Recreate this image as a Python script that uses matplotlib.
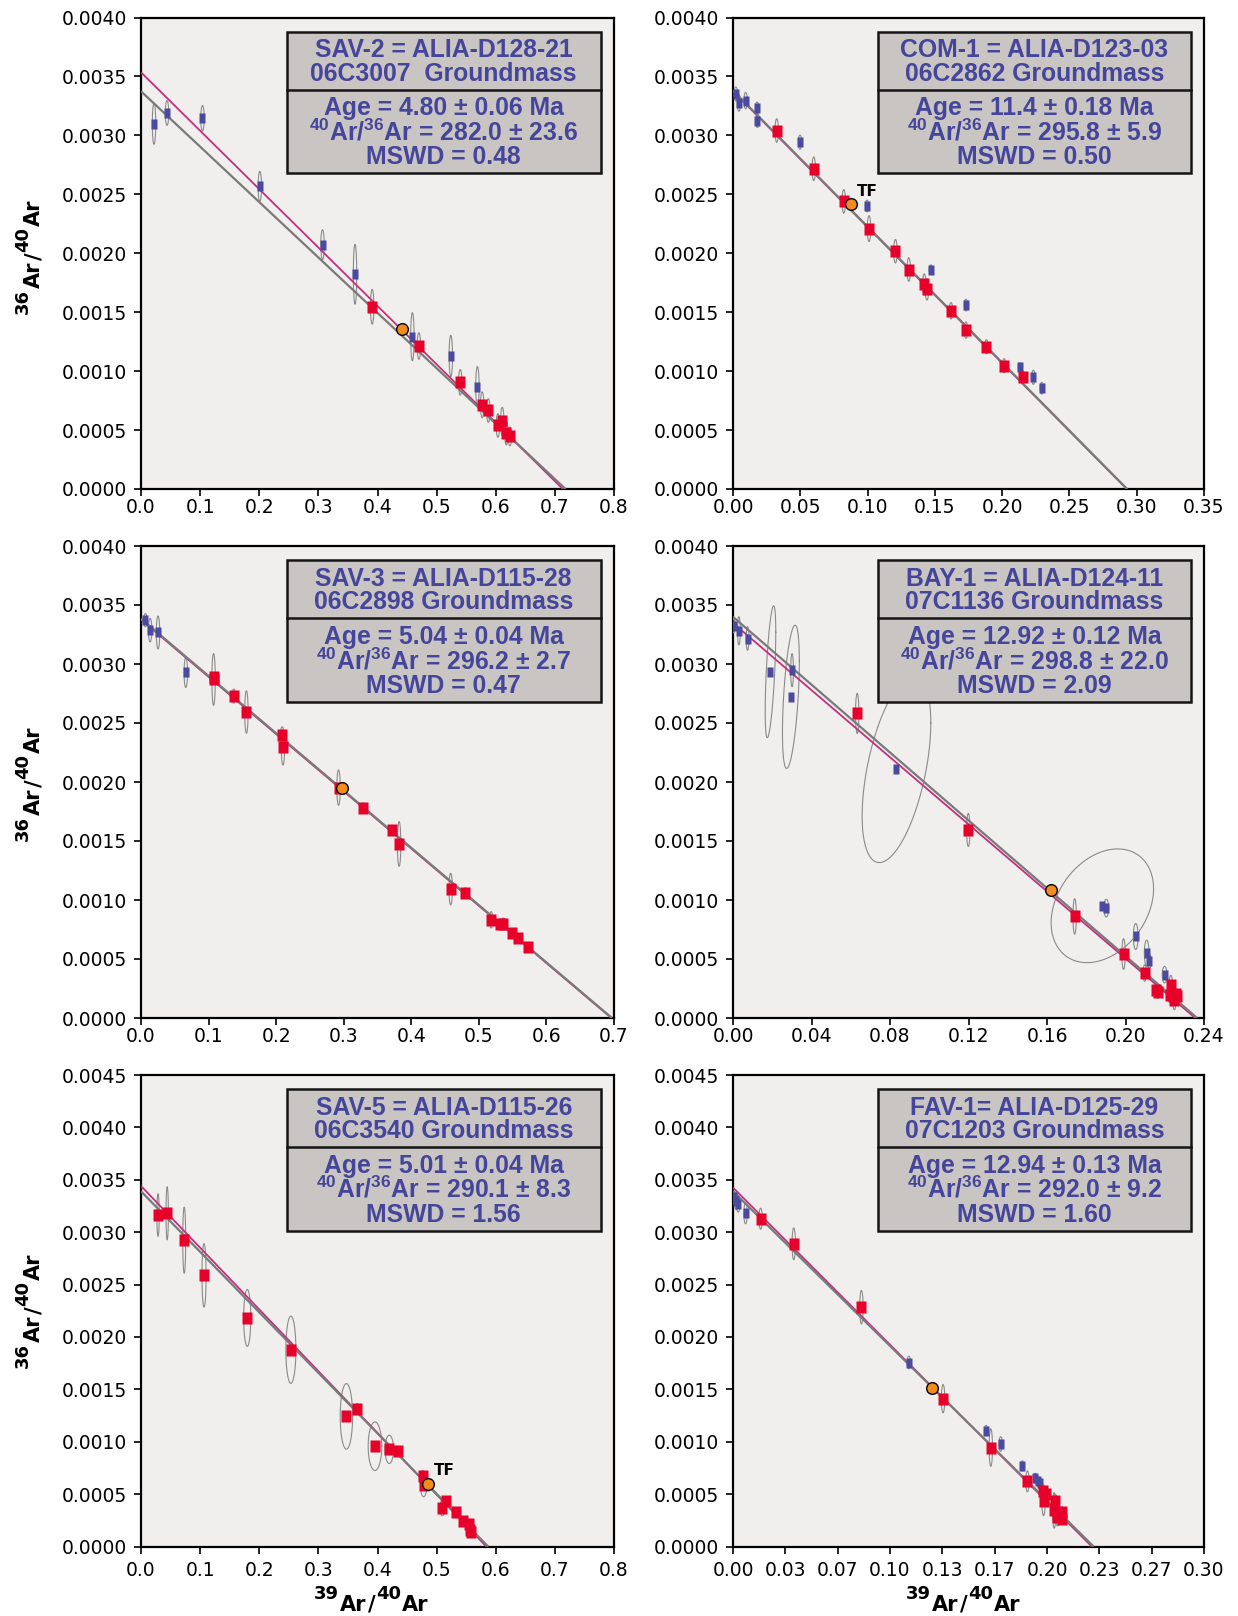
import numpy as np
import matplotlib
matplotlib.use("Agg")
import matplotlib.pyplot as plt
from matplotlib.patches import Rectangle
from matplotlib.font_manager import FontProperties

# ====================== DATA ======================
# Panel 1 : SAV-2
P1_BLUE_X = [0.022, 0.044, 0.104, 0.201, 0.307, 0.362, 0.459, 0.524, 0.569]
P1_BLUE_Y = [0.00310, 0.00319, 0.003145, 0.002567, 0.002073, 0.001822, 0.001292, 0.001128, 0.000869]
P1_BLUE_SY = [0.000176, 0.000105, 0.000108, 0.000127, 0.000127, 0.000254, 0.000204, 0.000176, 0.00017]
P1_RED_X = [0.391, 0.470, 0.540, 0.577, 0.5875, 0.6036, 0.611, 0.618, 0.624]
P1_RED_Y = [0.001546, 0.001213, 0.000905, 0.000714, 0.000666, 0.000539, 0.000573, 0.000474, 0.000446]
P1_RED_SY = [0.000148, 0.000113, 0.000108, 0.00011, 0.0001, 0.0001, 0.00012, 0.0001, 0.00008]
P1_TF = (0.442, 0.001354)
P1_FIT = (0.003535, 0.7134)     # magenta isochron: y-intercept, x-intercept
P1_REF = (0.003374, 0.718)      # grey line
P1_TEXT = ["SAV-2 = ALIA-D128-21", "06C3007  Groundmass", "Age = 4.80 \u00b1 0.06 Ma",
           "$^{40}$Ar/$^{36}$Ar = 282.0 \u00b1 23.6", "MSWD = 0.48"]

# Panel 2 : COM-1
P2_BLUE_X = [0.0021, 0.0044, 0.0094, 0.0179, 0.0182, 0.0498, 0.0996, 0.147, 0.1731, 0.2132, 0.2232, 0.2294]
P2_BLUE_Y = [0.003351, 0.003275, 0.003295, 0.003233, 0.003126, 0.002942, 0.002401, 0.001862, 0.001560,
             0.001032, 0.000948, 0.000855]
P2_BLUE_SY = [0.00006, 0.00007, 0.00007, 0.00005, 0.00006, 0.00006, 0.00005, 0.00004, 0.00005, 0.00004,
              0.00006, 0.00005]
P2_RED_X = [0.0325, 0.0600, 0.0823, 0.1011, 0.1207, 0.1306, 0.1421, 0.1441, 0.162, 0.1731, 0.1883, 0.2015, 0.2153]
P2_RED_Y = [0.003041, 0.002717, 0.002440, 0.002209, 0.002017, 0.001862, 0.001735, 0.001693, 0.001512,
            0.001348, 0.001207, 0.001046, 0.000953]
P2_RED_SY = [0.0001, 0.0001, 0.0001, 0.00011, 0.0001, 0.0001, 0.00009, 0.00009, 0.00007, 0.00007, 0.00006,
             0.00006, 0.00005]
P2_TF = (0.0876, 0.002415)
P2_FIT = (0.003375, 0.2926)
P2_REF = (0.00338, 0.2929)
P2_TEXT = ["COM-1 = ALIA-D123-03", "06C2862 Groundmass", "Age = 11.4 \u00b1 0.18 Ma",
           "$^{40}$Ar/$^{36}$Ar = 295.8 \u00b1 5.9", "MSWD = 0.50"]

# Panel 3 : SAV-3
P3_BLUE_X = [0.0065, 0.0135, 0.0252, 0.0663]
P3_BLUE_Y = [0.003371, 0.003287, 0.003267, 0.002928]
P3_BLUE_SY = [0.000056, 0.0001, 0.00014, 0.000127]
P3_RED_X = [0.1074, 0.108, 0.1373, 0.156, 0.2089, 0.2101, 0.2923, 0.3292, 0.3715, 0.382, 0.4583, 0.48,
            0.5182, 0.531, 0.536, 0.5493, 0.5581, 0.5728]
P3_RED_Y = [0.002869, 0.002892, 0.002728, 0.002593, 0.002398, 0.002293, 0.001952, 0.001783, 0.001594,
            0.001475, 0.001092, 0.001063, 0.000832, 0.000795, 0.000798, 0.000719, 0.000677, 0.000601]
P3_RED_SY = [0.00022, 0.00003, 0.00006, 0.00018, 0.00007, 0.00015, 0.00015, 0.00004, 0.00004, 0.00019,
             0.000134, 0.00004, 0.00007, 0.00003, 0.00005, 0.00003, 0.00003, 0.00003]
P3_TF = (0.297, 0.001952)
P3_FIT = (0.003376, 0.696)
P3_REF = (0.003384, 0.697)
P3_TEXT = ["SAV-3 = ALIA-D115-28", "06C2898 Groundmass", "Age = 5.04 \u00b1 0.04 Ma",
           "$^{40}$Ar/$^{36}$Ar = 296.2 \u00b1 2.7", "MSWD = 0.47"]

# Panel 4 : BAY-1
P4_BLUE_X = [0.0004, 0.003, 0.0074, 0.0191, 0.0295, 0.0301, 0.0833, 0.1882, 0.1902, 0.2052, 0.2108, 0.2122, 0.2199]
P4_BLUE_Y = [0.003323, 0.003281, 0.003216, 0.002934, 0.002722, 0.002948, 0.002107, 0.000951, 0.000931,
             0.000691, 0.000550, 0.000479, 0.000367]
P4_BLUE_SY = [0.00006, 0.00012, 0.0001, 0.000559, 0.000607, 0.00014, 0.00079, 0.000482, 0.000076, 0.00011,
              0.00011, 0.00006, 0.00007]
P4_BLUE_SX = [0.0007, 0.0007, 0.0007, 0.0027, 0.0043, 0.0007, 0.0175, 0.0261, 0.0012, 0.0012, 0.0012, 0.0009, 0.0012]
P4_BLUE_RHO = [0, 0, 0, 0.6, 0.5, 0, 0.5, 0.3, 0, 0, 0, 0, 0]
P4_RED_X = [0.0633, 0.1199, 0.1741, 0.199, 0.2098, 0.2153, 0.2165, 0.2231, 0.2229, 0.2243, 0.2255, 0.2263, 0.2249]
P4_RED_Y = [0.002581, 0.001594, 0.000861, 0.000542, 0.000381, 0.000234, 0.000217, 0.000282, 0.000197,
            0.000183, 0.000203, 0.000183, 0.00015]
P4_RED_SY = [0.00017, 0.00014, 0.00015, 0.00013, 0.00007, 0.00005, 0.00005, 0.00008, 0.00006, 0.00005,
             0.00005, 0.00004, 0.00008]
P4_TF = (0.162, 0.001086)
P4_FIT = (0.003347, 0.2355)
P4_REF = (0.00340, 0.2365)
P4_TEXT = ["BAY-1 = ALIA-D124-11", "07C1136 Groundmass", "Age = 12.92 \u00b1 0.12 Ma",
           "$^{40}$Ar/$^{36}$Ar = 298.8 \u00b1 22.0", "MSWD = 2.09"]

# Panel 5 : SAV-5
P5_RED_X = [0.0288, 0.0443, 0.0731, 0.1066, 0.1797, 0.2535, 0.3474, 0.3655, 0.3957, 0.4199, 0.4346, 0.4762,
            0.478, 0.5097, 0.5164, 0.5332, 0.5453, 0.554, 0.5567, 0.5587]
P5_RED_Y = [0.003163, 0.00318, 0.002923, 0.002588, 0.002182, 0.001878, 0.001242, 0.001316, 0.000957,
            0.000927, 0.00091, 0.000677, 0.00059, 0.000369, 0.000436, 0.000328, 0.000244, 0.000217,
            0.000159, 0.000142]
P5_RED_SY = [0.000203, 0.000254, 0.000316, 0.000303, 0.000272, 0.000321, 0.000313, 0.00005, 0.000232,
             0.000135, 0.00005, 0.00005, 0.000115, 0.000076, 0.00004, 0.00004, 0.00004, 0.00004,
             0.00004, 0.00004]
P5_RED_SX = [0.002, 0.002, 0.0025, 0.0035, 0.006, 0.0085, 0.0105, 0.002, 0.0115, 0.0072, 0.002, 0.002,
             0.0055, 0.004, 0.002, 0.002, 0.002, 0.002, 0.002, 0.002]
P5_TF = (0.485, 0.000599)
P5_FIT = (0.003441, 0.584)
P5_REF = (0.00339, 0.587)
P5_TEXT = ["SAV-5 = ALIA-D115-26", "06C3540 Groundmass", "Age = 5.01 \u00b1 0.04 Ma",
           "$^{40}$Ar/$^{36}$Ar = 290.1 \u00b1 8.3", "MSWD = 1.56"]

# Panel 6 : FAV-1
P6_BLUE_X = [0.0005, 0.002, 0.0033, 0.008, 0.112, 0.1612, 0.1705, 0.1843, 0.1926, 0.1941, 0.1958]
P6_BLUE_Y = [0.003332, 0.003295, 0.003271, 0.00318, 0.001756, 0.001106, 0.000978, 0.000768, 0.00065,
             0.000626, 0.000606]
P6_BLUE_SY = [0.00006, 0.00008, 0.00008, 0.0001, 0.00006, 0.00005, 0.00007, 0.00005, 0.00005, 0.00005, 0.00004]
P6_RED_X = [0.0176, 0.0387, 0.0818, 0.1338, 0.1642, 0.1875, 0.1976, 0.1996, 0.1978, 0.2054, 0.2046, 0.2076,
            0.2096, 0.2096, 0.2066]
P6_RED_Y = [0.003129, 0.002889, 0.002284, 0.001411, 0.000944, 0.000622, 0.000531, 0.000497, 0.00043,
            0.000436, 0.000345, 0.000311, 0.000328, 0.00026, 0.000277]
P6_RED_SY = [0.0001, 0.000152, 0.00016, 0.000135, 0.000179, 0.0001, 0.00006, 0.00006, 0.000135, 0.00006,
             0.00017, 0.00005, 0.00005, 0.00005, 0.00008]
P6_TF = (0.127, 0.001512)
P6_FIT = (0.003425, 0.2285)
P6_REF = (0.00339, 0.2297)
P6_TEXT = ["FAV-1= ALIA-D125-29", "07C1203 Groundmass", "Age = 12.94 \u00b1 0.13 Ma",
           "$^{40}$Ar/$^{36}$Ar = 292.0 \u00b1 9.2", "MSWD = 1.60"]

Y_TICKS_A = [0.0, 0.0005, 0.0010, 0.0015, 0.0020, 0.0025, 0.0030, 0.0035, 0.0040]
Y_TICKS_B = [0.0, 0.0005, 0.0010, 0.0015, 0.0020, 0.0025, 0.0030, 0.0035, 0.0040, 0.0045]
X_TICKS_1 = [0.0, 0.1, 0.2, 0.3, 0.4, 0.5, 0.6, 0.7, 0.8]
X_TICKS_2 = [0.0, 0.05, 0.10, 0.15, 0.20, 0.25, 0.30, 0.35]
X_TICKS_3 = [0.0, 0.1, 0.2, 0.3, 0.4, 0.5, 0.6, 0.7]
X_TICKS_4 = [0.0, 0.04, 0.08, 0.12, 0.16, 0.20, 0.24]
X_TICKS_6 = [i * 0.3 / 9 for i in range(10)]

# ====================== STYLE ======================
W, H = 1238, 1616
RED = '#e6002a'
BLUE = '#4a4a9e'
ORANGE = '#f28c1e'
GRAYLINE = '#7a7a7a'
MAGENTA = '#c2307c'
ELL = '#8a8a8a'
TXT = '#45459b'
BOX_FC = '#c9c5c2'
AX_FC = '#f0efee'

plt.rcParams['font.family'] = ['DejaVu Sans']
plt.rcParams['mathtext.default'] = 'regular'

fig = plt.figure(figsize=(W / 100, H / 100), dpi=100)

RECT_RED = [(-0.38, -0.5), (0.38, -0.5), (0.38, 0.5), (-0.38, 0.5), (-0.38, -0.5)]
RECT_BLUE = [(-0.32, -0.5), (0.32, -0.5), (0.32, 0.5), (-0.32, 0.5), (-0.32, -0.5)]


def add_ax(l, r, t, b):
    return fig.add_axes([l / W, 1 - b / H, (r - l) / W, (b - t) / H])


def ellipse(ax, cx, cy, sx, sy, rho):
    t = np.linspace(0, 2 * np.pi, 160)
    ex = cx + sx * np.cos(t)
    ey = cy + sy * (rho * np.cos(t) + np.sqrt(1 - rho ** 2) * np.sin(t))
    ax.plot(ex, ey, color=ELL, lw=0.8, zorder=3)


def panel(ax, ax_h_px, xmax, ymax, xticks, xfmt, yticks, blue, red, tf, fit, ref, texts,
          tf_label, xpad):
    ax.set_facecolor(AX_FC)
    ax.set_xlim(0, xmax)
    ax.set_ylim(0, ymax)
    sx_def = xmax * 0.0036
    # error ellipses
    if blue is not None:
        bx, by, bsy, bsx, brho = blue
        for i in range(len(bx)):
            ellipse(ax, bx[i], by[i], bsx[i] if bsx else sx_def, bsy[i], brho[i] if brho else 0.0)
    rx, ry, rsy, rsx = red
    for i in range(len(rx)):
        ellipse(ax, rx[i], ry[i], rsx[i] if rsx else sx_def, rsy[i], 0.0)
    # lines
    ax.plot([0, fit[1]], [fit[0], 0], color=MAGENTA, lw=1.3, zorder=4, solid_capstyle='butt')
    ax.plot([0, ref[1]], [ref[0], 0], color=GRAYLINE, lw=1.6, zorder=4.1, solid_capstyle='butt')
    # markers
    if blue is not None:
        ax.plot(blue[0], blue[1], ls='none', marker=RECT_BLUE, ms=6.8, mfc=BLUE, mec='none', zorder=5)
    ax.plot(rx, ry, ls='none', marker=RECT_RED, ms=8.8, mfc=RED, mec='none', zorder=5.1)
    ax.plot([tf[0]], [tf[1]], ls='none', marker='o', ms=8.4, mfc=ORANGE, mec='black', mew=1.0, zorder=6)
    if tf_label:
        ax.text(tf[0] + xmax * 0.012, tf[1] + ymax * 0.018, 'TF', fontsize=11, fontweight='bold',
                color='black', ha='left', va='baseline', zorder=7)
    # ticks
    ax.set_xticks(xticks)
    ax.set_xticklabels([xfmt % v for v in xticks])
    ax.set_yticks(yticks)
    ax.set_yticklabels(['%.4f' % v for v in yticks])
    ax.tick_params(axis='both', direction='out', length=5, width=1.2, labelsize=13.5, color='black')
    ax.tick_params(axis='y', pad=5)
    ax.tick_params(axis='x', pad=xpad)
    for s in ax.spines.values():
        s.set_linewidth(1.6)
        s.set_color('black')
    # text box
    def fy(off):
        return 1 - off / ax_h_px
    bx0, bx1 = 0.308, 0.972
    top, div, bot = fy(14.3), fy(72), fy(155.5)
    ax.add_patch(Rectangle((bx0, bot), bx1 - bx0, top - bot, transform=ax.transAxes, fc=BOX_FC,
                           ec='#151515', lw=1.8, zorder=10, clip_on=False))
    ax.plot([bx0, bx1], [div, div], transform=ax.transAxes, color='#151515', lw=1.8, zorder=11,
            clip_on=False)
    cx = (bx0 + bx1) / 2
    for s, off in zip(texts, [39.8, 63.2, 98.0, 123.0, 147.0]):
        ax.text(cx, fy(off), s, transform=ax.transAxes, ha='center', va='baseline', fontsize=17.8,
                fontweight='bold', family=['Liberation Sans', 'DejaVu Sans'], color=TXT, zorder=12)


# axes layout (pixels)
LC = (141, 614)
RC = (733, 1204)
ROWS = [(17.5, 489), (546, 1018), (1075, 1546.5)]

ax1 = add_ax(LC[0], LC[1], *ROWS[0])
ax2 = add_ax(RC[0], RC[1], *ROWS[0])
ax3 = add_ax(LC[0], LC[1], *ROWS[1])
ax4 = add_ax(RC[0], RC[1], *ROWS[1])
ax5 = add_ax(LC[0], LC[1], *ROWS[2])
ax6 = add_ax(RC[0], RC[1], *ROWS[2])

h0 = ROWS[0][1] - ROWS[0][0]
h1 = ROWS[1][1] - ROWS[1][0]
h2 = ROWS[2][1] - ROWS[2][0]

panel(ax1, h0, 0.8, 0.004, X_TICKS_1, '%.1f', Y_TICKS_A,
      (P1_BLUE_X, P1_BLUE_Y, P1_BLUE_SY, None, None), (P1_RED_X, P1_RED_Y, P1_RED_SY, None),
      P1_TF, P1_FIT, P1_REF, P1_TEXT, False, 1.5)
panel(ax2, h0, 0.35, 0.004, X_TICKS_2, '%.2f', Y_TICKS_A,
      (P2_BLUE_X, P2_BLUE_Y, P2_BLUE_SY, None, None), (P2_RED_X, P2_RED_Y, P2_RED_SY, None),
      P2_TF, P2_FIT, P2_REF, P2_TEXT, True, 1.5)
panel(ax3, h1, 0.7, 0.004, X_TICKS_3, '%.1f', Y_TICKS_A,
      (P3_BLUE_X, P3_BLUE_Y, P3_BLUE_SY, None, None), (P3_RED_X, P3_RED_Y, P3_RED_SY, None),
      P3_TF, P3_FIT, P3_REF, P3_TEXT, False, 1.5)
panel(ax4, h1, 0.24, 0.004, X_TICKS_4, '%.2f', Y_TICKS_A,
      (P4_BLUE_X, P4_BLUE_Y, P4_BLUE_SY, P4_BLUE_SX, P4_BLUE_RHO), (P4_RED_X, P4_RED_Y, P4_RED_SY, None),
      P4_TF, P4_FIT, P4_REF, P4_TEXT, False, 1.5)
panel(ax5, h2, 0.8, 0.0045, X_TICKS_1, '%.1f', Y_TICKS_B,
      None, (P5_RED_X, P5_RED_Y, P5_RED_SY, P5_RED_SX),
      P5_TF, P5_FIT, P5_REF, P5_TEXT, True, 5.5)
panel(ax6, h2, 0.30, 0.0045, X_TICKS_6, '%.2f', Y_TICKS_B,
      (P6_BLUE_X, P6_BLUE_Y, P6_BLUE_SY, None, None), (P6_RED_X, P6_RED_Y, P6_RED_SY, None),
      P6_TF, P6_FIT, P6_REF, P6_TEXT, False, 5.5)

# ---------------- composite axis labels ----------------
renderer = fig.canvas.get_renderer()


def rich_label(x_px, y_px_top, pieces, rotation=0):
    """pieces: (text, size, raise_px). For rotation 0: x is centre, y is baseline (pixels from top).
    For rotation 90: x is baseline, y is centre."""
    widths = []
    for s, size, rs in pieces:
        fp = FontProperties(family='DejaVu Sans', weight='bold', size=size)
        w, h, d = renderer.get_text_width_height_descent(s, fp, ismath=False)
        widths.append(w + 1.0)
    total = sum(widths)
    pos = -total / 2
    y_mpl = H - y_px_top
    for (s, size, rs), w in zip(pieces, widths):
        if rotation == 0:
            px, py = x_px + pos, y_mpl + rs
        else:
            px, py = x_px - rs, y_mpl + pos
        fig.text(px / W, py / H, s, fontsize=size, fontweight='bold', family='DejaVu Sans',
                 rotation=rotation, rotation_mode='anchor', ha='left', va='baseline', color='black')
        pos += w


Y_PIECES = [('36', 13, 12), ('Ar', 15, 0), ('/', 15, 0), ('40', 13, 12), ('Ar', 15, 0)]
X_PIECES = [('39', 13, 12), ('Ar', 15, 0), ('/', 15, 0), ('40', 13, 12), ('Ar', 15, 0)]
for yc in (256, 783, 1310):
    rich_label(40, yc, Y_PIECES, rotation=90)
rich_label(372, 1611, X_PIECES, rotation=0)
rich_label(964, 1611, X_PIECES, rotation=0)

fig.savefig('out.png', dpi=100, facecolor='white')
